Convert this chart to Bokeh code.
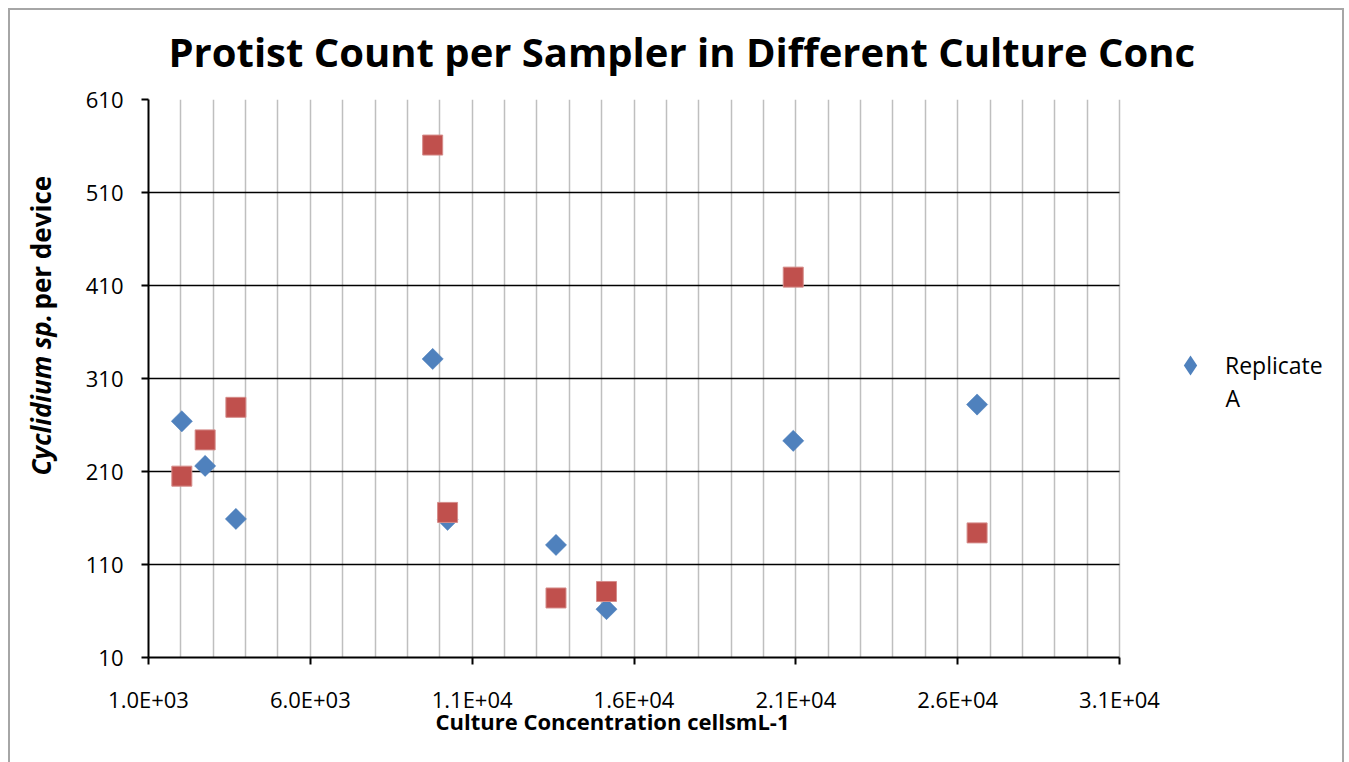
import math
from bokeh.plotting import figure
from bokeh.models import (FixedTicker, Legend, LegendItem, Title, GlobalInlineStyleSheet,
                          Label, Range1d)
from bokeh.embed import file_html
from bokeh.resources import INLINE

title_text = "Protist Count per Sampler in Different Culture Conc"
x_label = "Culture Concentration cellsmL-1"
y_label_italic = "Cyclidium sp."
y_label_plain = "per device"
legend_lines = ["Replicate", "A"]

concentration = [2030, 2750, 3700, 9780, 10240, 13590, 15150, 20920, 26600]
replicate_a = [264, 216, 159, 331, 158, 131, 62, 243, 282]
replicate_b = [205, 244, 279, 561, 166, 74, 81, 419, 144]

x_ticks = [1000, 6000, 11000, 16000, 21000, 26000, 31000]
x_tick_labels = ["1.0E+03", "6.0E+03", "1.1E+04", "1.6E+04", "2.1E+04", "2.6E+04", "3.1E+04"]
y_ticks = [10, 110, 210, 310, 410, 510, 610]
x_grid = list(range(1000, 31001, 1000))

BLUE = "#4F81BD"
RED = "#C0504D"
FONT = "Open Sans"

# canvas geometry (pixels); plot area spans FL..FR horizontally, FT..FT+558 vertically
W, H = 1332, 761
FL, FR, FT = 138, 1109, 98
FB = FT + 558

# the frame is extended to the right edge so the legend can live inside it;
# the axis / grids are bounded to the real data range
x_end = x_ticks[-1] + (W - FR) * (x_ticks[-1] - x_ticks[0]) / (FR - FL)

p = figure(width=W, height=H, x_range=Range1d(x_ticks[0], x_end),
           y_range=Range1d(y_ticks[0], y_ticks[-1]),
           output_backend="svg", toolbar_location=None,
           min_border_left=FL, min_border_right=0,
           min_border_top=FT, min_border_bottom=H - FB)
css = """
html, body {margin: 0; padding: 0; overflow: hidden; background: white;}
body::after {content: ""; position: fixed; left: 8px; top: 8px; width: 1332px; height: 800px;
  border: 2px solid #a6a6a6; border-bottom: none; pointer-events: none; z-index: 1000;}
"""
p.stylesheets = [GlobalInlineStyleSheet(css=css)]
p.styles = {"margin-left": "10px", "margin-top": "1px"}
p.outline_line_color = None
p.background_fill_color = "white"
p.border_fill_color = "white"

# axes
for ax in (p.xaxis, p.yaxis):
    ax.axis_line_color = "black"
    ax.axis_line_width = 2
    ax.major_tick_line_color = "black"
    ax.major_tick_line_width = 2
    ax.major_tick_out = 7
    ax.major_tick_in = 0
    ax.minor_tick_line_color = None
    ax.major_label_text_font = FONT
    ax.major_label_text_font_size = "22px"
    ax.major_label_text_color = "black"

p.xaxis.ticker = FixedTicker(ticks=x_ticks)
p.xaxis.bounds = (x_ticks[0], x_ticks[-1])
p.xaxis.major_label_overrides = dict(zip(x_ticks, x_tick_labels))
p.xaxis.major_label_standoff = 19
p.yaxis.ticker = FixedTicker(ticks=y_ticks)
p.yaxis.major_label_standoff = 18

p.xgrid.ticker = FixedTicker(ticks=x_grid)
p.xgrid.grid_line_color = "#bfbfbf"
p.xgrid.grid_line_width = 1.5

if "cross_bounds" in p.ygrid[0].properties():
    p.ygrid.ticker = FixedTicker(ticks=y_ticks)
    p.ygrid.cross_bounds = (x_ticks[0], x_ticks[-1])
    p.ygrid.grid_line_color = "black"
    p.ygrid.grid_line_width = 1.5
else:
    p.ygrid.visible = False
    p.segment(x0=x_ticks[0], x1=x_ticks[-1], y0=y_ticks, y1=y_ticks,
              line_color="black", line_width=1.5, level="underlay")

# legend key for replicate A: a diamond drawn under each (larger) rotated-square marker
key_a = p.scatter(concentration, replicate_a, marker="diamond", size=20,
                  fill_color=BLUE, line_color=None)
r_a = p.scatter(concentration, replicate_a, marker="square", angle=math.pi / 4,
                size=15, fill_color=BLUE, line_color=BLUE, line_width=0.5)
r_b = p.scatter(concentration, replicate_b, marker="square", size=20,
                fill_color=RED, line_color="#d58c8a", line_width=1)

leg1 = Legend(items=[LegendItem(label=legend_lines[0], renderers=[key_a])],
              location=(1017, 267), glyph_width=50, glyph_height=50, label_standoff=10,
              border_line_color=None, background_fill_alpha=0, padding=0, margin=0,
              label_text_font=FONT, label_text_font_size="23px",
              label_text_color="black")
p.add_layout(leg1)
# wrapped second line of the legend label
p.add_layout(Label(x=x_ticks[-1], y=y_ticks[0], x_offset=106, y_offset=260,
                   text=legend_lines[1], text_align="left", text_baseline="middle",
                   text_font=FONT, text_font_size="23px", text_color="black"))

p.add_layout(Title(text=title_text, align="left", offset=20, vertical_align="bottom",
                   standoff=41, text_font=FONT, text_font_style="bold",
                   text_font_size="40px", text_color="black"), "above")
p.add_layout(Title(text=x_label, align="left", offset=287, vertical_align="top",
                   standoff=-21, text_font=FONT, text_font_style="bold",
                   text_font_size="22px", text_color="black"), "below")
# y axis title: spacer, then two zero-thickness titles sharing one column
p.add_layout(Title(text=" ", text_font_size="10px", standoff=29), "left")
p.add_layout(Title(text=y_label_italic, align="left", offset=182, vertical_align="middle",
                   standoff=-200, text_font=FONT, text_font_style="bold italic",
                   text_font_size="26px", text_color="black"), "left")
p.add_layout(Title(text=y_label_plain, align="left", offset=348, vertical_align="middle",
                   standoff=-200, text_font=FONT, text_font_style="bold",
                   text_font_size="26px", text_color="black"), "left")

open("out.html", "w").write(file_html(p, INLINE))
